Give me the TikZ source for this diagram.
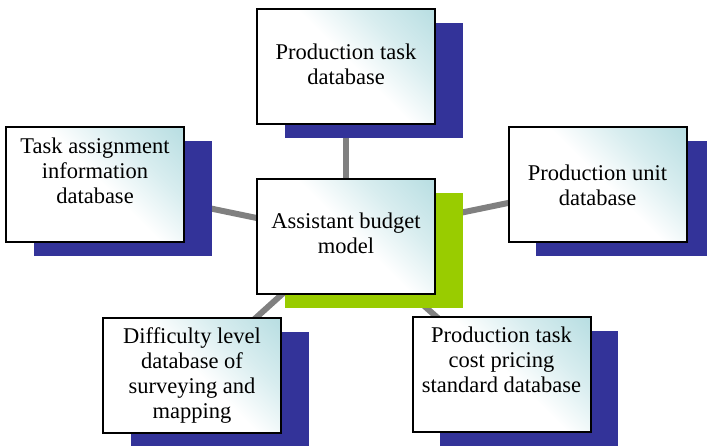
\documentclass[tikz,border=0pt]{standalone}
\usepackage{fontspec}
\setmainfont{Liberation Serif}
\newfontfamily\boxfont{Liberation Serif}
\definecolor{tealc}{RGB}{184,222,226}
\definecolor{shblue}{RGB}{51,51,153}
\definecolor{shgreen}{RGB}{153,204,0}
\definecolor{linkgray}{RGB}{128,128,128}
\pgfdeclareverticalshading{boxgrad}{100bp}{color(0bp)=(white); color(52bp)=(white); color(68bp)=(tealc!55!white); color(85bp)=(tealc); color(100bp)=(tealc)}
\tikzset{
  dbbox/.style={draw=black, line width=2pt, shading=boxgrad, shading angle=-45,
    minimum width=178pt, minimum height=115pt, inner sep=0pt, outer sep=0pt},
  shadowbox/.style={fill=shblue, draw=none, minimum width=178pt, minimum height=115pt, inner sep=0pt},
  greenbox/.style={shadowbox, fill=shgreen},
  dblabel/.style={align=center, font=\boxfont\fontsize{22.5}{25}\selectfont, inner sep=0pt, text=black},
  link/.style={draw=linkgray, line width=6pt}
}
\begin{document}
\begin{tikzpicture}[x=1pt,y=-1pt]
\useasboundingbox (0,0) rectangle (707,445);
% box centres
\coordinate (cT) at (346,66.5);
\coordinate (cC) at (346,236.5);
\coordinate (cL) at (95,184.5);
\coordinate (cR) at (597.5,184.5);
\coordinate (cBL) at (192,375.5);
\coordinate (cBR) at (501.5,374.5);
% connectors
\draw[link] (cC) -- (cT);
\draw[link] (cC) -- (cL);
\draw[link] (cC) -- (cR);
\draw[link] (cC) -- (cBL);
\draw[link] (cC) -- (cBR);
% shadows
\begin{scope}
\clip (0,0) rectangle (707,445);
\node[shadowbox] (sT) at ([shift={(27.5,14)}]cT) {};
\node[greenbox] (sC) at ([shift={(27.5,14)}]cC) {};
\node[shadowbox] (sL) at ([shift={(27.5,14)}]cL) {};
\node[shadowbox] (sR) at ([shift={(27.5,14)}]cR) {};
\node[shadowbox] (sBL) at ([shift={(27.5,14)}]cBL) {};
\node[shadowbox] (sBR) at ([shift={(27.5,14)}]cBR) {};
\end{scope}
% boxes
\node[dbbox] (bT) at (cT) {};
\node[dbbox] (bC) at (cC) {};
\node[dbbox] (bL) at (cL) {};
\node[dbbox] (bR) at (cR) {};
\node[dbbox] (bBL) at (cBL) {};
\node[dbbox] (bBR) at (cBR) {};
% texts
\node[dblabel] (tT) at ([yshift=2pt]bT.center) {Production task\\database};
\node[dblabel] (tC) at ([yshift=3pt]bC.center) {Assistant budget\\model};
\node[dblabel] (tL) at ([yshift=14pt]bL.center) {Task assignment\\information\\database};
\node[dblabel] (tR) at ([yshift=-1pt]bR.center) {Production unit\\database};
\node[dblabel] (tBL) at (bBL.center) {Difficulty level\\database of\\surveying and\\mapping};
\node[dblabel] (tBR) at ([yshift=15pt]bBR.center) {Production task\\cost pricing\\standard database};
\end{tikzpicture}
\end{document}
